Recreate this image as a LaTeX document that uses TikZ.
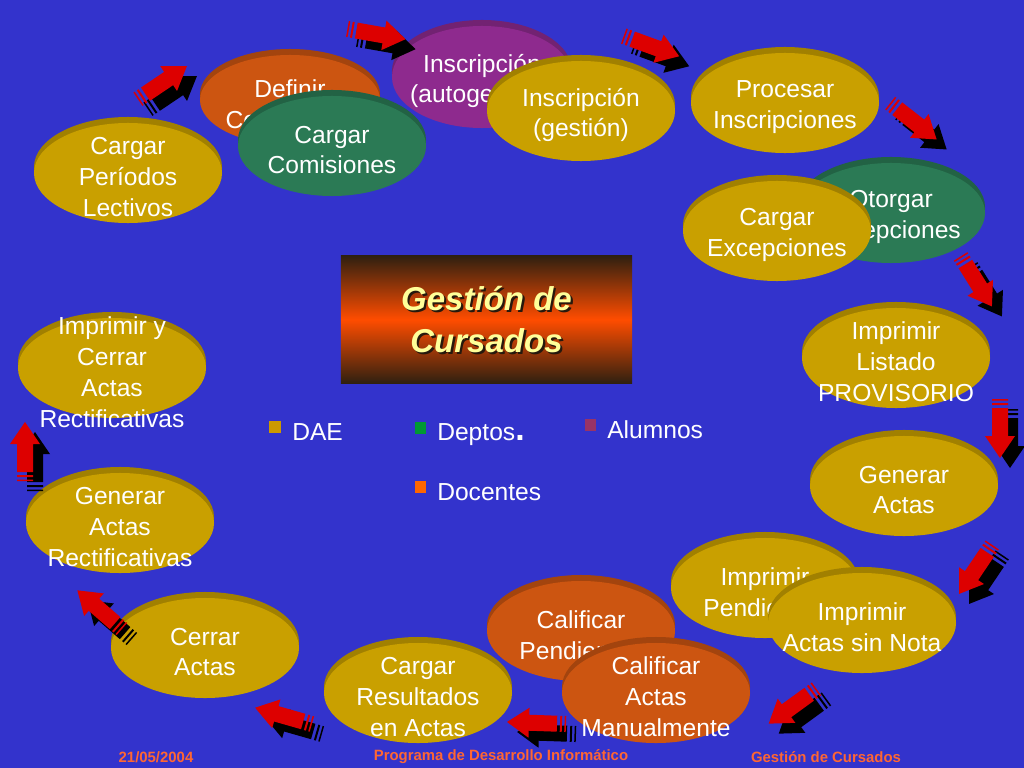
\documentclass[tikz,border=0pt]{standalone}
\usepackage{fontspec}
\setmainfont{Liberation Sans}
\usetikzlibrary{shapes.geometric,shadows}

\definecolor{fondo}{HTML}{3333CC}
\definecolor{dae}{HTML}{C9A000}
\definecolor{deptos}{HTML}{2B7A55}
\definecolor{alumnos}{HTML}{8E2A8E}
\definecolor{docentes}{HTML}{CC5511}
\definecolor{pie}{HTML}{FF6633}
\definecolor{titulo}{HTML}{FFFF99}
\definecolor{rojo}{HTML}{DD0000}
\definecolor{mdae}{HTML}{CC9900}
\definecolor{mdeptos}{HTML}{009933}
\definecolor{malumnos}{HTML}{993366}
\definecolor{mdocentes}{HTML}{FF6600}

\tikzset{
  disco/.style={ellipse, minimum width=4.7cm, minimum height=2.5cm, inner sep=0pt, fill=#1,
    general shadow={fill=#1!80!black, shadow yshift=0.15cm}},
  rotulo/.style={text=white, align=center, inner sep=0pt, yshift=-0.1cm,
    font=\fontsize{17.5}{22}\selectfont},
  cuadro/.style={minimum size=0.28cm, inner sep=0pt, fill=#1},
  leyenda/.style={text=white, anchor=base west, inner sep=0pt, font=\fontsize{17.5}{21}\selectfont},
  pie/.style={text=pie, inner sep=0pt, font=\fontsize{10.6}{12}\selectfont\bfseries},
  flecha/.pic={
    \foreach \c/\d in {black/10, rojo/0}{
      \begin{scope}[shift={(\d,\d)}, rotate=#1]
        \fill[\c] (-20,-8) rectangle (8,8) (8,-15) -- (30,0) -- (8,15) -- cycle
          (-25,-8) rectangle (-23,8) (-29,-8) rectangle (-27.5,8);
      \end{scope}
    }
  }
}

\begin{document}
\begin{tikzpicture}[x=0.025cm, y=-0.025cm]
	\fill[fondo, use as bounding box] (0,0) rectangle (1024,768);

	% discos, de arriba a la izquierda en sentido horario
	\node[disco=docentes, minimum width=4.5cm, minimum height=2.25cm] (defin) at (290,100) {};
	\node[rotulo] (t1) at (defin) {Definir\\Comisiones};
	\node[disco=alumnos, minimum width=4.5cm, minimum height=2.55cm] (autog) at (482,77) {};
	\node[rotulo] (t2) at (autog) {Inscripción\\(autogestión)};
	\node[disco=dae] (gest) at (581,111) {};
	\node[rotulo] (t3) at (gest) {Inscripción\\(gestión)};
	\node[disco=deptos] (comis) at (332,146) {};
	\node[rotulo] (t4) at (comis) {Cargar\\Comisiones};
	\node[disco=dae] (perio) at (128,173) {};
	\node[rotulo] (t5) at (perio) {Cargar\\Períodos\\Lectivos};
	\node[disco=dae] (proc) at (785,103) {};
	\node[rotulo] (t6) at (proc) {Procesar\\Inscripciones};
	\node[disco=deptos] (otor) at (891,213) {};
	\node[rotulo] (t7) at (otor) {Otorgar\\Excepciones};
	\node[disco=dae] (cexc) at (777,231) {};
	\node[rotulo] (t8) at (cexc) {Cargar\\Excepciones};
	\node[disco=dae] (list) at (896,358) {};
	\node[rotulo] (t9) at (list) {Imprimir\\Listado\\PROVISORIO};
	\node[disco=dae] (gen) at (904,486) {};
	\node[rotulo] (t10) at (gen) {Generar\\Actas};
	\node[disco=dae] (pend) at (765,588) {};
	\node[rotulo] (t11) at (pend) {Imprimir\\Pendientes};
	\node[disco=dae] (sinn) at (862,623) {};
	\node[rotulo] (t12) at (sinn) {Imprimir\\Actas sin Nota};
	\node[disco=docentes] (calp) at (581,631) {};
	\node[rotulo] (t13) at (calp) {Calificar\\Pendientes};
	\node[disco=docentes] (calm) at (656,693) {};
	\node[rotulo] (t14) at (calm) {Calificar\\Actas\\Manualmente};
	\node[disco=dae] (cres) at (418,693) {};
	\node[rotulo] (t15) at (cres) {Cargar\\Resultados\\en Actas};
	\node[disco=dae] (cerr) at (205,648) {};
	\node[rotulo] (t16) at (cerr) {Cerrar\\Actas};
	\node[disco=dae] (grect) at (120,523) {};
	\node[rotulo] (t17) at (grect) {Generar\\Actas\\Rectificativas};
	\node[disco=dae] (irect) at (112,368) {};
	\node[rotulo] (t18) at (irect) {Imprimir y\\Cerrar\\Actas\\Rectificativas};

	% titulo central
	\node[minimum width=7.275cm, minimum height=3.175cm, inner sep=0pt,
		top color=black!75!brown, bottom color=black!75!brown, middle color=orange!60!red]
		(centro) at (486.5,319.5) {};
	\node[text=black!80!brown, align=center, xshift=1.5pt, yshift=-1.5pt,
		font=\fontsize{23.5}{30}\selectfont\bfseries\itshape] (sombra) at (centro) {Gestión de\\Cursados};
	\node[text=titulo, align=center,
		font=\fontsize{23.5}{30}\selectfont\bfseries\itshape] (tit) at (centro) {Gestión de\\Cursados};

	% leyenda
	\node[cuadro=mdae] (c1) at (275,427) {};
	\node[leyenda] (l1) at (292,440) {DAE};
	\node[cuadro=mdeptos] (c2) at (420.5,428) {};
	\node[leyenda] (l2) at (437,440) {Deptos{\fontsize{24}{24}\selectfont\bfseries .}};
	\node[cuadro=malumnos] (c3) at (590.5,425) {};
	\node[leyenda] (l3) at (607,438) {Alumnos};
	\node[cuadro=mdocentes] (c4) at (420.5,487) {};
	\node[leyenda] (l4) at (437,500) {Docentes};

	% flechas
	\pic (f1) at (162,83) {flecha=34};
	\pic (f2) at (376,34) {flecha=-10};
	\pic (f3) at (651,46) {flecha=-20};
	\pic (f4) at (913,121) {flecha=-38};
	\pic (f5) at (976,281) {flecha=-58};
	\pic (f6) at (1000,428) {flecha=-90};
	\pic (f7) at (976,569) {flecha=-124};
	\pic (f8) at (793,706) {flecha=-144};
	\pic (f9) at (537,723) {flecha=178};
	\pic (f10) at (284,716) {flecha=164};
	\pic (f11) at (100,610) {flecha=139};
	\pic (f12) at (25,452) {flecha=90};

	% pie
	\node[pie] (fecha) at (156,757) {21/05/2004};
	\node[pie] (prog) at (501,757) {Programa de Desarrollo Informático};
	\node[pie] (gc) at (826,757) {Gestión de Cursados};
\end{tikzpicture}
\end{document}
